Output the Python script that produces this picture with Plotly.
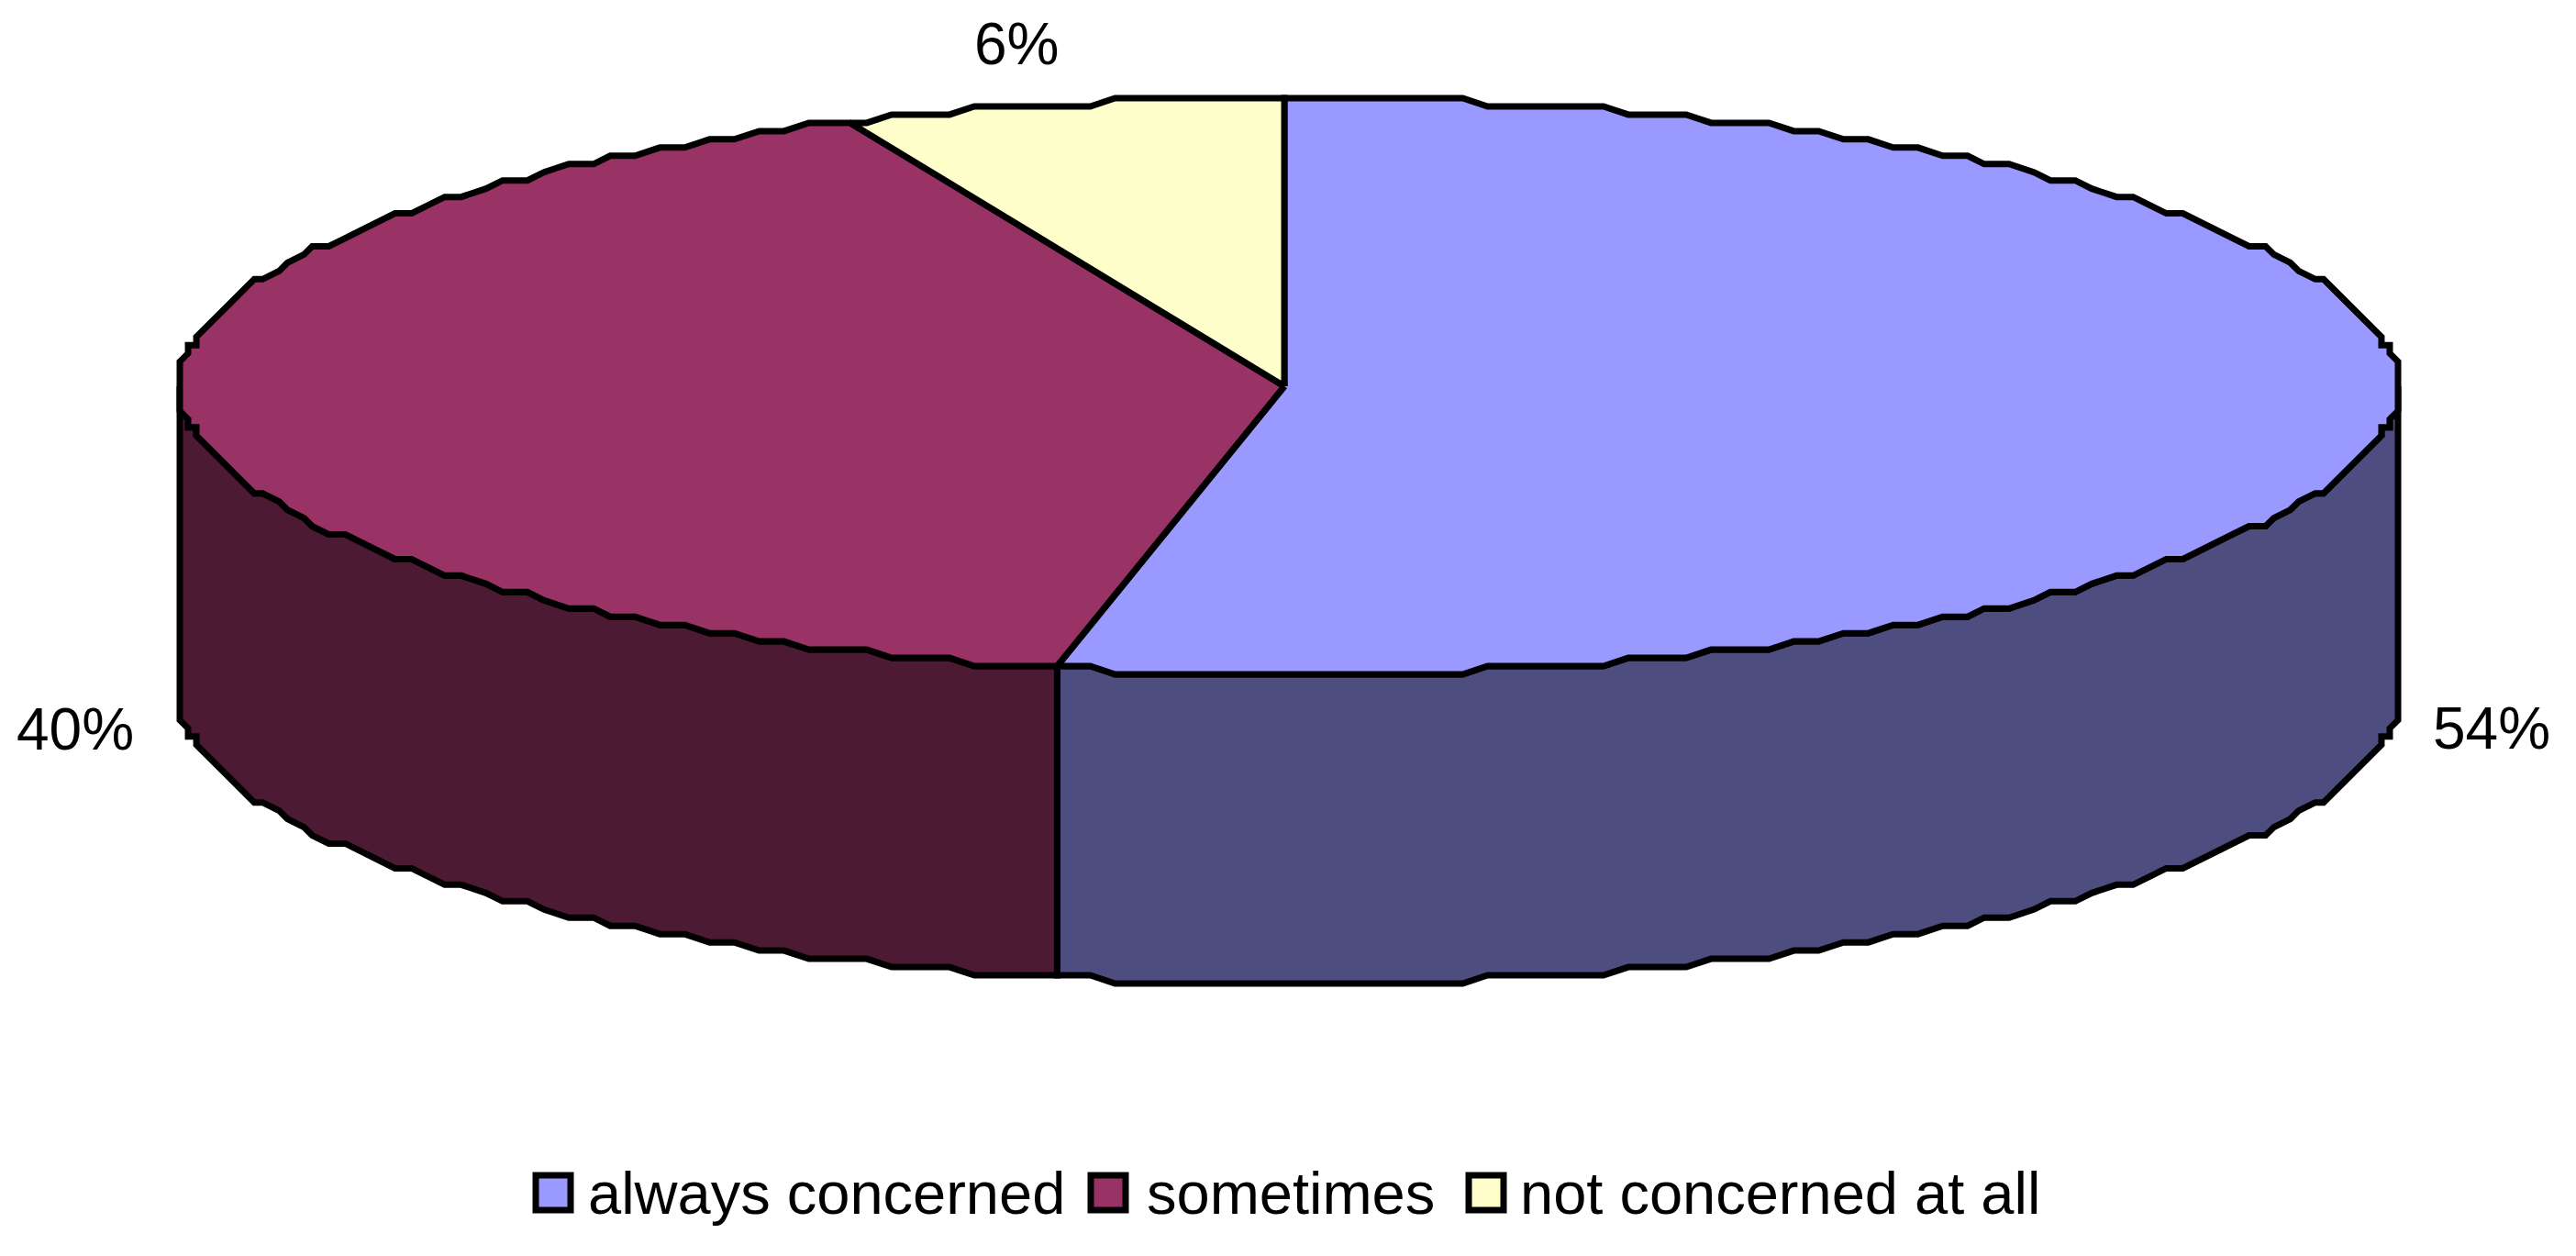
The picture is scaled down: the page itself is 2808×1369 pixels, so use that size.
import numpy as np
import plotly.graph_objects as go

categories = ["always concerned", "sometimes", "not concerned at all"]
shares = [53.45, 40.2, 6.35]
pct_labels = ["54%", "40%", "6%"]
top_colors = ["#9999FF", "#993366", "#FFFFCC"]
side_colors = ["#4D4D80", "#4D1A33", "#808066"]

W, H = 2808, 1369
CX, CY, RX, RY, DEPTH = 1405, 421, 1209, 314, 337
APEX_X = 1400
START = -0.24
GRID_X = 2 * RX / 268
GRID_Y = 2 * RY / 70
STEP_DEG = 1.5
LW = 7
FONT = "Liberation Sans"
label_pos = [(2716, 794), (82, 795), (1108, 48)]
legend_marker_x = [603, 1208, 1620]
legend_text_x = [639, 1248, 1655]
legend_y = 1300


def arc(t0, t1):
    """Stepped elliptical arc, angles clockwise from 12 o'clock, in degrees."""
    inner = np.arange(np.ceil(t0 / STEP_DEG), np.floor(t1 / STEP_DEG) + 1) * STEP_DEG
    t = np.radians(np.unique(np.concatenate([[t0], inner, [t1]])))
    x = CX + RX * np.sin(t)
    y = CY - RY * np.cos(t)
    left, top = CX - RX, CY - RY
    x = left + np.round((x - left) / GRID_X) * GRID_X
    y = top + np.round((y - top) / GRID_Y) * GRID_Y
    return x, y


edges = START + np.concatenate([[0], np.cumsum(shares)]) / sum(shares) * 360
fig = go.Figure()


def poly(x, y, color):
    fig.add_trace(go.Scatter(x=x, y=y, mode="lines", fill="toself", fillcolor=color,
                             line=dict(color="black", width=LW), hoverinfo="skip", showlegend=False))


# Side walls: only the front half of the rim (90..270 degrees) is visible
for i in range(len(shares)):
    a, b = max(edges[i], 90), min(edges[i + 1], 270)
    if b <= a:
        continue
    x, y = arc(a, b)
    poly(np.concatenate([x, x[::-1], x[:1]]),
         np.concatenate([y, y[::-1] + DEPTH, y[:1]]), side_colors[i])

# Top face wedges
for i in range(len(shares)):
    x, y = arc(edges[i], edges[i + 1])
    if i == 0:
        x[0] = APEX_X
    if i == len(shares) - 1:
        x[-1] = APEX_X
    poly(np.concatenate([[APEX_X], x, [APEX_X]]), np.concatenate([[CY], y, [CY]]), top_colors[i])

# Percentage labels
for (lx, ly), s in zip(label_pos, pct_labels):
    fig.add_annotation(x=lx, y=ly, text=s, showarrow=False, xanchor="center", yanchor="middle",
                       font=dict(family=FONT, size=64, color="black"))

# Key
for i, c in enumerate(categories):
    fig.add_trace(go.Scatter(x=[legend_marker_x[i]], y=[legend_y], mode="markers", hoverinfo="skip",
                             showlegend=False,
                             marker=dict(symbol="square", size=38, color=top_colors[i],
                                         line=dict(color="black", width=LW))))
    fig.add_annotation(x=legend_text_x[i], y=legend_y, text=c, showarrow=False,
                       xanchor="left", yanchor="middle",
                       font=dict(family=FONT, size=65, color="black"))

fig.update_layout(width=W, height=H, margin=dict(l=0, r=0, t=0, b=0), autosize=False,
                  paper_bgcolor="white", plot_bgcolor="white",
                  xaxis=dict(visible=False, range=[0, W], fixedrange=True),
                  yaxis=dict(visible=False, range=[H, 0], fixedrange=True))
fig.write_html("out.html", config={"displayModeBar": False},
               post_script="document.body.style.margin='0';document.body.style.overflow='hidden';")
